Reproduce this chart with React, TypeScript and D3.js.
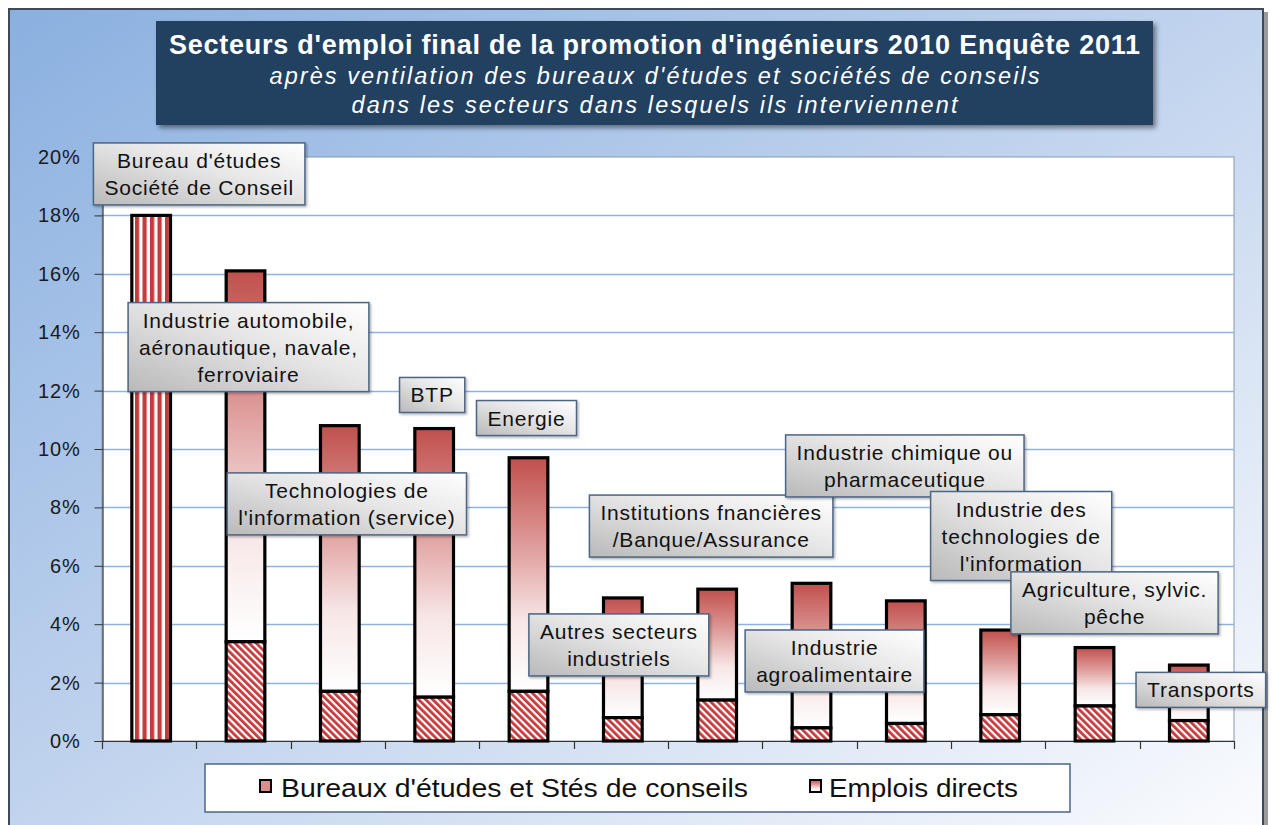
import React, { useEffect, useRef } from "react";
import * as d3 from "d3";

// ---- Data ----
const categories: string[] = [
  "Bureau d'études\nSociété de Conseil",
  "Industrie automobile,\naéronautique, navale,\nferroviaire",
  "Technologies de\nl'information (service)",
  "BTP",
  "Energie",
  "Autres secteurs\nindustriels",
  "Institutions fnancières\n/Banque/Assurance",
  "Industrie\nagroalimentaire",
  "Industrie chimique ou\npharmaceutique",
  "Industrie des\ntechnologies de\nl'information",
  "Agriculture, sylvic.\npêche",
  "Transports",
];
// Bureaux d'études et Stés de conseils (hatched, bottom)
const bureaux: number[] = [18, 3.4, 1.7, 1.5, 1.7, 0.8, 1.4, 0.45, 0.6, 0.9, 1.2, 0.7];
// Emplois directs (gradient, top)
const directs: number[] = [0, 12.7, 9.1, 9.2, 8.0, 4.1, 3.8, 4.95, 4.2, 2.9, 2.0, 1.9];
const yTicks: number[] = [0, 2, 4, 6, 8, 10, 12, 14, 16, 18, 20];
const seriesNames: string[] = ["Bureaux d'études et Stés de conseils", "Emplois directs"];
const titleLines: string[] = [
  "Secteurs d'emploi final de la promotion d'ingénieurs 2010 Enquête 2011",
  "après ventilation des bureaux d'études et sociétés de conseils",
  "dans les secteurs dans lesquels ils interviennent",
];

// ---- Label layout (offset from bar centre in px, centre height in % units) ----
const labelDx: number[] = [50, 5, 9, 0, 0, -2, -4, 25, 1, 23, 22, 14];
const labelY: number[] = [19.42, 13.49, 8.12, 11.85, 11.06, 3.29, 7.36, 2.74, 9.42, 7.02, 4.73, 1.75];

const W = 1272;
const H = 825;
const FONT = "'Liberation Sans', Arial, Helvetica, sans-serif";

export default function App() {
  const ref = useRef<SVGSVGElement | null>(null);

  useEffect(() => {
    const svg = d3.select(ref.current);
    svg.selectAll("*").remove();

    const defs = svg.append("defs");
    const bg = defs.append("linearGradient").attr("id", "bgGrad")
      .attr("x1", 0).attr("y1", 0).attr("x2", 1).attr("y2", 1);
    bg.append("stop").attr("offset", 0).attr("stop-color", "#8ab0e0");
    bg.append("stop").attr("offset", 0.5).attr("stop-color", "#c2d4ee");
    bg.append("stop").attr("offset", 1).attr("stop-color", "#fbfcfe");

    const barG = defs.append("linearGradient").attr("id", "barGrad")
      .attr("x1", 0).attr("y1", 0).attr("x2", 0).attr("y2", 1);
    barG.append("stop").attr("offset", 0).attr("stop-color", "#c0504d");
    barG.append("stop").attr("offset", 0.35).attr("stop-color", "#dc9795");
    barG.append("stop").attr("offset", 0.7).attr("stop-color", "#f7e6e6");
    barG.append("stop").attr("offset", 1).attr("stop-color", "#ffffff");

    const boxG = defs.append("linearGradient").attr("id", "boxGrad")
      .attr("x1", 0).attr("y1", 1).attr("x2", 1).attr("y2", 0);
    boxG.append("stop").attr("offset", 0).attr("stop-color", "#b9b9b9");
    boxG.append("stop").attr("offset", 0.55).attr("stop-color", "#e6e6e6");
    boxG.append("stop").attr("offset", 1).attr("stop-color", "#ffffff");

    const pd = defs.append("pattern").attr("id", "hatchD")
      .attr("patternUnits", "userSpaceOnUse").attr("width", 5).attr("height", 5)
      .attr("patternTransform", "rotate(-45)");
    pd.append("rect").attr("width", 5).attr("height", 5).attr("fill", "#ffffff");
    pd.append("rect").attr("width", 2.8).attr("height", 5).attr("fill", "#c8393b");

    const pv = defs.append("pattern").attr("id", "hatchV")
      .attr("patternUnits", "userSpaceOnUse").attr("width", 7.5).attr("height", 7.5);
    pv.append("rect").attr("width", 7.5).attr("height", 7.5).attr("fill", "#ffffff");
    pv.append("rect").attr("width", 4.2).attr("height", 7.5).attr("fill", "#c8393b");

    const sh = defs.append("filter").attr("id", "shadow")
      .attr("x", "-10%").attr("y", "-10%").attr("width", "130%").attr("height", "140%");
    sh.append("feDropShadow").attr("dx", 3).attr("dy", 3).attr("stdDeviation", 2.5)
      .attr("flood-color", "#000").attr("flood-opacity", 0.45);
    const sh2 = defs.append("filter").attr("id", "shadow2")
      .attr("x", "-10%").attr("y", "-10%").attr("width", "130%").attr("height", "140%");
    sh2.append("feDropShadow").attr("dx", 1.5).attr("dy", 1.5).attr("stdDeviation", 1.2)
      .attr("flood-color", "#000").attr("flood-opacity", 0.3);

    // background & frame
    svg.append("rect").attr("x", 0).attr("y", 0).attr("width", W).attr("height", H).attr("fill", "#ffffff");
    svg.append("rect").attr("x", 1264).attr("y", 12).attr("width", 4).attr("height", H).attr("fill", "#9a9a9a");
    svg.append("rect").attr("x", 9).attr("y", 9).attr("width", 1254).attr("height", 830)
      .attr("fill", "url(#bgGrad)").attr("stroke", "#3c4a5c").attr("stroke-width", 2);

    // scales
    const x = d3.scaleBand<number>().domain(d3.range(categories.length)).range([102, 1234]).padding(0);
    const y = d3.scaleLinear().domain([0, 20]).range([741, 157]);
    const barW = x.bandwidth() * 0.41;

    // plot area
    svg.append("rect").attr("x", 102).attr("y", y(20)).attr("width", 1234 - 102).attr("height", y(0) - y(20))
      .attr("fill", "#ffffff").attr("stroke", "#8797ad").attr("stroke-width", 1);

    // gridlines
    svg.append("g").selectAll("line").data(yTicks.filter(t => t > 0 && t < 20)).join("line")
      .attr("x1", 102).attr("x2", 1234)
      .attr("y1", d => Math.round(y(d)) + 0.5).attr("y2", d => Math.round(y(d)) + 0.5)
      .attr("stroke", "#8eb3e2").attr("stroke-width", 1.3);

    // y axis
    const yAxis = d3.axisLeft(y).tickValues(yTicks).tickSize(8).tickPadding(14)
      .tickFormat(d => `${d}%`);
    const ya = svg.append("g").attr("transform", "translate(102.5,0)").call(yAxis);
    ya.select(".domain").attr("stroke", "#333").attr("stroke-width", 1.2);
    ya.selectAll(".tick line").attr("stroke", "#333");
    ya.selectAll(".tick text").attr("font-family", FONT).attr("font-size", 20)
      .attr("letter-spacing", "0.8px").attr("fill", "#1a1a1a");
    ya.selectAll(".tick").filter((d: any) => d === 20).select("line").remove();

    // x axis (ticks at band boundaries)
    const xa = svg.append("g");
    xa.append("line").attr("x1", 102).attr("x2", 1234).attr("y1", 741.5).attr("y2", 741.5)
      .attr("stroke", "#333").attr("stroke-width", 1.2);
    const edges = d3.range(categories.length + 1).map(i => (i < categories.length ? (x(i) as number) : 1234));
    xa.selectAll("line.t").data(edges).join("line").attr("class", "t")
      .attr("x1", d => Math.round(d) + 0.5).attr("x2", d => Math.round(d) + 0.5)
      .attr("y1", 741).attr("y2", 749).attr("stroke", "#333").attr("stroke-width", 1.2);

    // bars
    const bars = svg.append("g");
    categories.forEach((_, i) => {
      const cx = (x(i) as number) + x.bandwidth() / 2 + 2;
      const x0 = cx - barW / 2;
      const b = bureaux[i];
      const t = b + directs[i];
      if (directs[i] > 0) {
        bars.append("rect").attr("x", x0).attr("y", y(t)).attr("width", barW).attr("height", y(b) - y(t))
          .attr("fill", "url(#barGrad)").attr("stroke", "#000").attr("stroke-width", 3.2);
      }
      bars.append("rect").attr("x", x0).attr("y", y(b)).attr("width", barW).attr("height", y(0) - y(b))
        .attr("fill", i === 0 ? "url(#hatchV)" : "url(#hatchD)").attr("stroke", "#000").attr("stroke-width", 3.2);
    });

    // category labels
    const labG = svg.append("g");
    categories.forEach((c, i) => {
      const lines = c.split("\n");
      const cx = (x(i) as number) + x.bandwidth() / 2 + labelDx[i];
      const cy = y(labelY[i]);
      const lh = 27;
      const g = labG.append("g");
      const rect = g.append("rect");
      const txt = g.append("text").attr("font-family", FONT).attr("font-size", 21)
        .attr("letter-spacing", "0.8px").attr("fill", "#111").attr("text-anchor", "middle");
      lines.forEach((l, k) => {
        txt.append("tspan").attr("x", cx).attr("y", cy - ((lines.length - 1) * lh) / 2 + k * lh + 7.5).text(l);
      });
      let maxW = 0;
      txt.selectAll<SVGTSpanElement, unknown>("tspan").each(function () {
        maxW = Math.max(maxW, this.getComputedTextLength());
      });
      const bw = maxW + 22;
      const bh = lines.length * lh + 8;
      rect.attr("x", cx - bw / 2).attr("y", cy - bh / 2).attr("width", bw).attr("height", bh)
        .attr("fill", "url(#boxGrad)").attr("stroke", "#4c6585").attr("stroke-width", 1.5)
        .attr("filter", "url(#shadow2)");
    });

    // title
    svg.append("rect").attr("x", 156).attr("y", 21).attr("width", 997).attr("height", 104)
      .attr("fill", "#243f61").attr("filter", "url(#shadow)");
    const tcx = 654.5;
    svg.append("text").attr("x", tcx).attr("y", 54).attr("text-anchor", "middle")
      .attr("font-family", FONT).attr("font-weight", "bold").attr("font-size", 27)
      .attr("fill", "#ffffff").attr("textLength", 971).attr("lengthAdjust", "spacing")
      .text(titleLines[0]);
    svg.append("text").attr("x", tcx).attr("y", 84).attr("text-anchor", "middle")
      .attr("font-family", FONT).attr("font-style", "italic").attr("font-size", 23.5)
      .attr("fill", "#ffffff").attr("textLength", 770).attr("lengthAdjust", "spacing")
      .text(titleLines[1]);
    svg.append("text").attr("x", tcx).attr("y", 113).attr("text-anchor", "middle")
      .attr("font-family", FONT).attr("font-style", "italic").attr("font-size", 23.5)
      .attr("fill", "#ffffff").attr("textLength", 606).attr("lengthAdjust", "spacing")
      .text(titleLines[2]);

    // legend
    const lg = svg.append("g");
    lg.append("rect").attr("x", 205).attr("y", 764).attr("width", 865).attr("height", 48)
      .attr("fill", "#ffffff").attr("stroke", "#4c6585").attr("stroke-width", 1.5);
    lg.append("rect").attr("x", 260).attr("y", 780).attr("width", 11).attr("height", 12)
      .attr("fill", "#d98f8d").attr("stroke", "#000").attr("stroke-width", 2);
    lg.append("text").attr("x", 281).attr("y", 797).attr("font-family", FONT).attr("font-size", 25)
      .attr("fill", "#111").attr("textLength", 467).attr("lengthAdjust", "spacingAndGlyphs").text(seriesNames[0]);
    lg.append("rect").attr("x", 810).attr("y", 780).attr("width", 11).attr("height", 12)
      .attr("fill", "url(#barGrad)").attr("stroke", "#000").attr("stroke-width", 2);
    lg.append("text").attr("x", 829).attr("y", 797).attr("font-family", FONT).attr("font-size", 25)
      .attr("fill", "#111").attr("textLength", 189).attr("lengthAdjust", "spacingAndGlyphs").text(seriesNames[1]);
  }, []);

  return (
    <svg
      ref={ref}
      width={W}
      height={H}
      style={{ position: "absolute", left: 0, top: 0, display: "block" }}
    />
  );
}
